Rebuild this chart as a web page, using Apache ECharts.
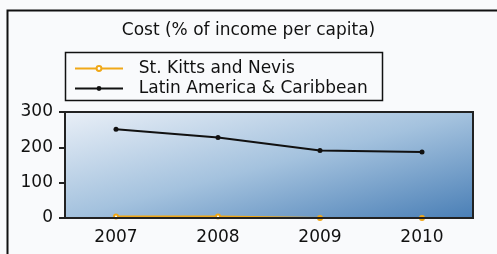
<!DOCTYPE html>
<html><head><meta charset="utf-8">
<script src="https://cdn.jsdelivr.net/npm/echarts@6/dist/echarts.min.js"></script>
<style>html,body{margin:0;padding:0;background:#f9fafc;}#c{width:497px;height:254px;}</style>
</head><body><div id="c"></div>
<script>
var years = ['2007', '2008', '2009', '2010'];
var stKitts = [4, 4, 0, 0];
var latam = [251, 228, 191, 187];
var yTicks = {min: 0, max: 300, interval: 100};
var FONT = 'DejaVu Sans';
var chart = echarts.init(document.getElementById('c'), null, {renderer: 'canvas'});
chart.setOption({
  backgroundColor: '#f9fafc',
  animation: false,
  title: {text: 'Cost (% of income per capita)', left: 'center', top: 17, textStyle: {fontFamily: FONT, fontSize: 17, fontWeight: 'normal', color: '#111'}},
  graphic: [
    {type: 'rect', shape: {x: 7.5, y: 10.5, width: 520, height: 300}, style: {fill: 'none', stroke: '#111', lineWidth: 2}, z: 0},
    {type: 'rect', shape: {x: 65.5, y: 52.5, width: 317, height: 48}, style: {fill: 'none', stroke: '#111', lineWidth: 1.5}, z: 0}
  ],
  legend: {
    orient: 'vertical', left: 69, top: 55, itemWidth: 48, itemHeight: 6, itemGap: 3,
    formatter: '  {name}',
    textStyle: {fontFamily: FONT, fontSize: 17, color: '#111'},
    data: ['St. Kitts and Nevis', 'Latin America & Caribbean']
  },
  grid: {left: 65, right: 24, top: 112, bottom: 36, show: true, borderColor: '#222', borderWidth: 2,
    backgroundColor: {type: 'linear', global: true, x: 65, y: 112, x2: 116.6, y2: 310.6,
      colorStops: [{offset: 0, color: '#e9eff7'}, {offset: 0.5, color: '#a4c2de'}, {offset: 1, color: '#4a7fb6'}]}},
  xAxis: {type: 'category', data: years, boundaryGap: true, z: 10,
    axisLine: {lineStyle: {color: '#222', width: 2}},
    axisTick: {alignWithLabel: true, length: 5, lineStyle: {color: '#222', width: 2}},
    axisLabel: {fontFamily: FONT, fontSize: 17, color: '#111', margin: 11}},
  yAxis: {type: 'value', min: yTicks.min, max: yTicks.max, interval: yTicks.interval,
    splitLine: {show: false},
    axisLine: {show: true, lineStyle: {color: '#222', width: 2}},
    axisTick: {show: true, length: 6, lineStyle: {color: '#222', width: 2}},
    axisLabel: {fontFamily: FONT, fontSize: 17, color: '#111', margin: 12}},
  series: [
    {name: 'St. Kitts and Nevis', type: 'line', data: stKitts, color: '#f0a818', symbol: 'emptyCircle', symbolSize: 4, lineStyle: {width: 2}, z: 3},
    {name: 'Latin America & Caribbean', type: 'line', data: latam, color: '#111', symbol: 'circle', symbolSize: 5, lineStyle: {width: 2}, z: 4}
  ]
});
</script></body></html>
